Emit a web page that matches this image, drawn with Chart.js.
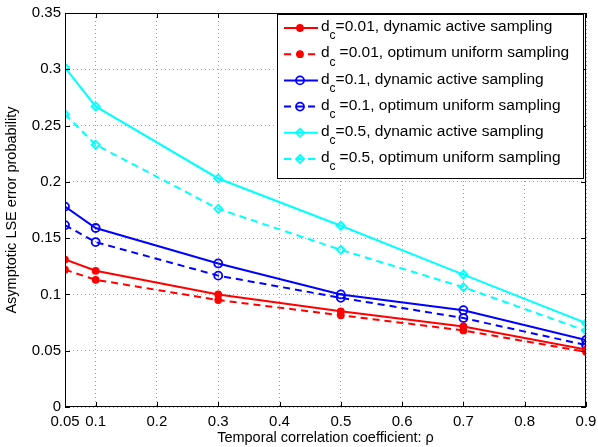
<!DOCTYPE html>
<html lang="en">
<head>
  <meta charset="UTF-8" />
  <title>Asymptotic LSE error probability</title>
  <script src="https://cdn.jsdelivr.net/npm/chart.js"></script>
  <style>
    html, body { margin: 0; padding: 0; background: #fff; }
    #wrap { width: 598px; height: 447px; }
  </style>
</head>
<body>
  <div id="wrap"><canvas id="lseChart" width="598" height="447"></canvas></div>

  <script>
    // temporal correlation coefficient rho
    const rhoValues = [0.05, 0.1, 0.3, 0.5, 0.7, 0.9];
    const xTickValues = [0.05, 0.1, 0.2, 0.3, 0.4, 0.5, 0.6, 0.7, 0.8, 0.9];

    // error probability
    const dc001Active  = [0.131, 0.121, 0.100, 0.085, 0.0715, 0.051];
    const dc001Uniform = [0.122, 0.113, 0.095, 0.0815, 0.068, 0.049];
    const dc01Active   = [0.178, 0.159, 0.1275, 0.100, 0.086, 0.0595];
    const dc01Uniform  = [0.1615, 0.1465, 0.1167, 0.097, 0.079, 0.055];
    const dc05Active   = [0.3015, 0.267, 0.203, 0.161, 0.1176, 0.0745];
    const dc05Uniform  = [0.260, 0.233, 0.176, 0.1396, 0.1064, 0.0677];

    const legendNames = [
      ["0.01", ", dynamic active sampling", false],
      ["0.01", ", optimum uniform sampling", true],
      ["0.1", ", dynamic active sampling", false],
      ["0.1", ", optimum uniform sampling", true],
      ["0.5", ", dynamic active sampling", false],
      ["0.5", ", optimum uniform sampling", true]
    ];

    const RED = "#ff0000", BLUE = "#0000ff", CYAN = "#00ffff";
    const FONT = "'Liberation Sans', Arial, sans-serif";

    function series(values, color, dashed, style) {
      return {
        data: rhoValues.map((x, i) => ({ x: x, y: values[i] })),
        borderColor: color,
        backgroundColor: style === "circle-filled" ? color : "rgba(0,0,0,0)",
        borderWidth: 2,
        borderDash: dashed ? [7, 5] : [],
        pointStyle: style === "diamond" ? "rectRot" : "circle",
        pointRadius: style === "circle-filled" ? 3 : 4,
        pointBorderWidth: 1.8,
        pointBackgroundColor: style === "circle-filled" ? color : "rgba(0,0,0,0)",
        pointBorderColor: color,
        tension: 0
      };
    }

    const datasets = [
      series(dc001Active, RED, false, "circle-filled"),
      series(dc001Uniform, RED, true, "circle-filled"),
      series(dc01Active, BLUE, false, "circle"),
      series(dc01Uniform, BLUE, true, "circle"),
      series(dc05Active, CYAN, false, "diamond"),
      series(dc05Uniform, CYAN, true, "diamond")
    ];

    // box, inward ticks and the legend, drawn MATLAB style
    const matlabFrame = {
      id: "matlabFrame",
      afterDraw(chart) {
        const ctx = chart.ctx;
        const a = chart.chartArea;
        const xs = chart.scales.x, ys = chart.scales.y;
        ctx.save();
        ctx.strokeStyle = "#000";
        ctx.lineWidth = 1;
        ctx.setLineDash([]);
        ctx.strokeRect(a.left + 0.5, a.top + 0.5, a.right - a.left - 1, a.bottom - a.top - 1);
        ctx.beginPath();
        xTickValues.forEach(v => {
          const px = Math.round(xs.getPixelForValue(v)) + 0.5;
          ctx.moveTo(px, a.bottom); ctx.lineTo(px, a.bottom - 5);
          ctx.moveTo(px, a.top); ctx.lineTo(px, a.top + 5);
        });
        ys.ticks.forEach(t => {
          const py = Math.round(ys.getPixelForValue(t.value)) + 0.5;
          ctx.moveTo(a.left, py); ctx.lineTo(a.left + 5, py);
          ctx.moveTo(a.right, py); ctx.lineTo(a.right - 5, py);
        });
        ctx.stroke();

        // legend
        const bx = 277, by = 14, bw = 306, bh = 164;
        ctx.fillStyle = "#fff";
        ctx.fillRect(bx, by, bw, bh);
        ctx.strokeRect(bx + 0.5, by + 0.5, bw, bh);
        legendNames.forEach((item, i) => {
          const ds = chart.data.datasets[i];
          const cy = 28 + i * 26.2;
          ctx.strokeStyle = ds.borderColor;
          ctx.lineWidth = 2;
          ctx.setLineDash(item[2] ? [7, 5] : []);
          ctx.beginPath();
          ctx.moveTo(284, cy); ctx.lineTo(318, cy);
          ctx.stroke();
          ctx.setLineDash([]);
          ctx.lineWidth = 1.8;
          ctx.beginPath();
          const mx = 300, r = ds.pointRadius;
          if (ds.pointStyle === "rectRot") {
            ctx.moveTo(mx, cy - r); ctx.lineTo(mx + r, cy); ctx.lineTo(mx, cy + r); ctx.lineTo(mx - r, cy); ctx.closePath();
          } else {
            ctx.arc(mx, cy, r, 0, Math.PI * 2);
          }
          if (ds.pointBackgroundColor !== "rgba(0,0,0,0)") { ctx.fillStyle = ds.borderColor; ctx.fill(); }
          ctx.stroke();

          ctx.fillStyle = "#000";
          ctx.textBaseline = "middle";
          ctx.textAlign = "left";
          ctx.font = "15.5px " + FONT;
          let tx = 321;
          ctx.fillText("d", tx, cy - 1);
          tx += ctx.measureText("d").width;
          ctx.font = "12px " + FONT;
          ctx.fillText("c", tx, cy + 8);
          tx += ctx.measureText("c").width + (item[2] ? 4 : 0);
          ctx.font = "15.5px " + FONT;
          ctx.fillText("=" + item[0] + item[1], tx, cy - 1);
        });
        ctx.restore();
      }
    };

    new Chart(document.getElementById("lseChart"), {
      type: "line",
      data: { datasets },
      plugins: [matlabFrame],
      options: {
        responsive: false,
        animation: false,
        events: [],
        layout: { padding: { top: 10, right: 12, left: 3, bottom: 0 } },
        plugins: { legend: { display: false }, tooltip: { enabled: false } },
        scales: {
          x: {
            type: "linear",
            min: 0.05,
            max: 0.9,
            afterBuildTicks(scale) { scale.ticks = xTickValues.map(v => ({ value: v })); },
            afterFit(scale) {
              scale.height = 40;
              scale.paddingLeft = 0;
              scale.paddingRight = 0;
            },
            ticks: {
              color: "#000",
              font: { family: FONT, size: 15 },
              padding: 6,
              maxRotation: 0,
              autoSkip: false,
              callback: v => String(v)
            },
            grid: { color: "#a0a0a0", lineWidth: 1, drawTicks: false },
            border: { display: false, dash: [1, 3] },
            title: {
              display: true,
              text: "Temporal correlation coefficient: ρ",
              color: "#000",
              font: { family: FONT, size: 14.5 },
              padding: { top: 0, bottom: 0 }
            }
          },
          y: {
            min: 0,
            max: 0.35,
            afterFit(scale) { scale.width = 62; },
            ticks: {
              stepSize: 0.05,
              color: "#000",
              font: { family: FONT, size: 15 },
              padding: 4,
              callback: v => String(Math.round(v * 100) / 100)
            },
            grid: { color: "#a0a0a0", lineWidth: 1, drawTicks: false },
            border: { display: false, dash: [1, 3] },
            title: {
              display: true,
              text: "Asymptotic LSE error probability",
              color: "#000",
              font: { family: FONT, size: 14.5 },
              padding: { top: 0, bottom: 0 }
            }
          }
        }
      }
    });
  </script>
</body>
</html>
